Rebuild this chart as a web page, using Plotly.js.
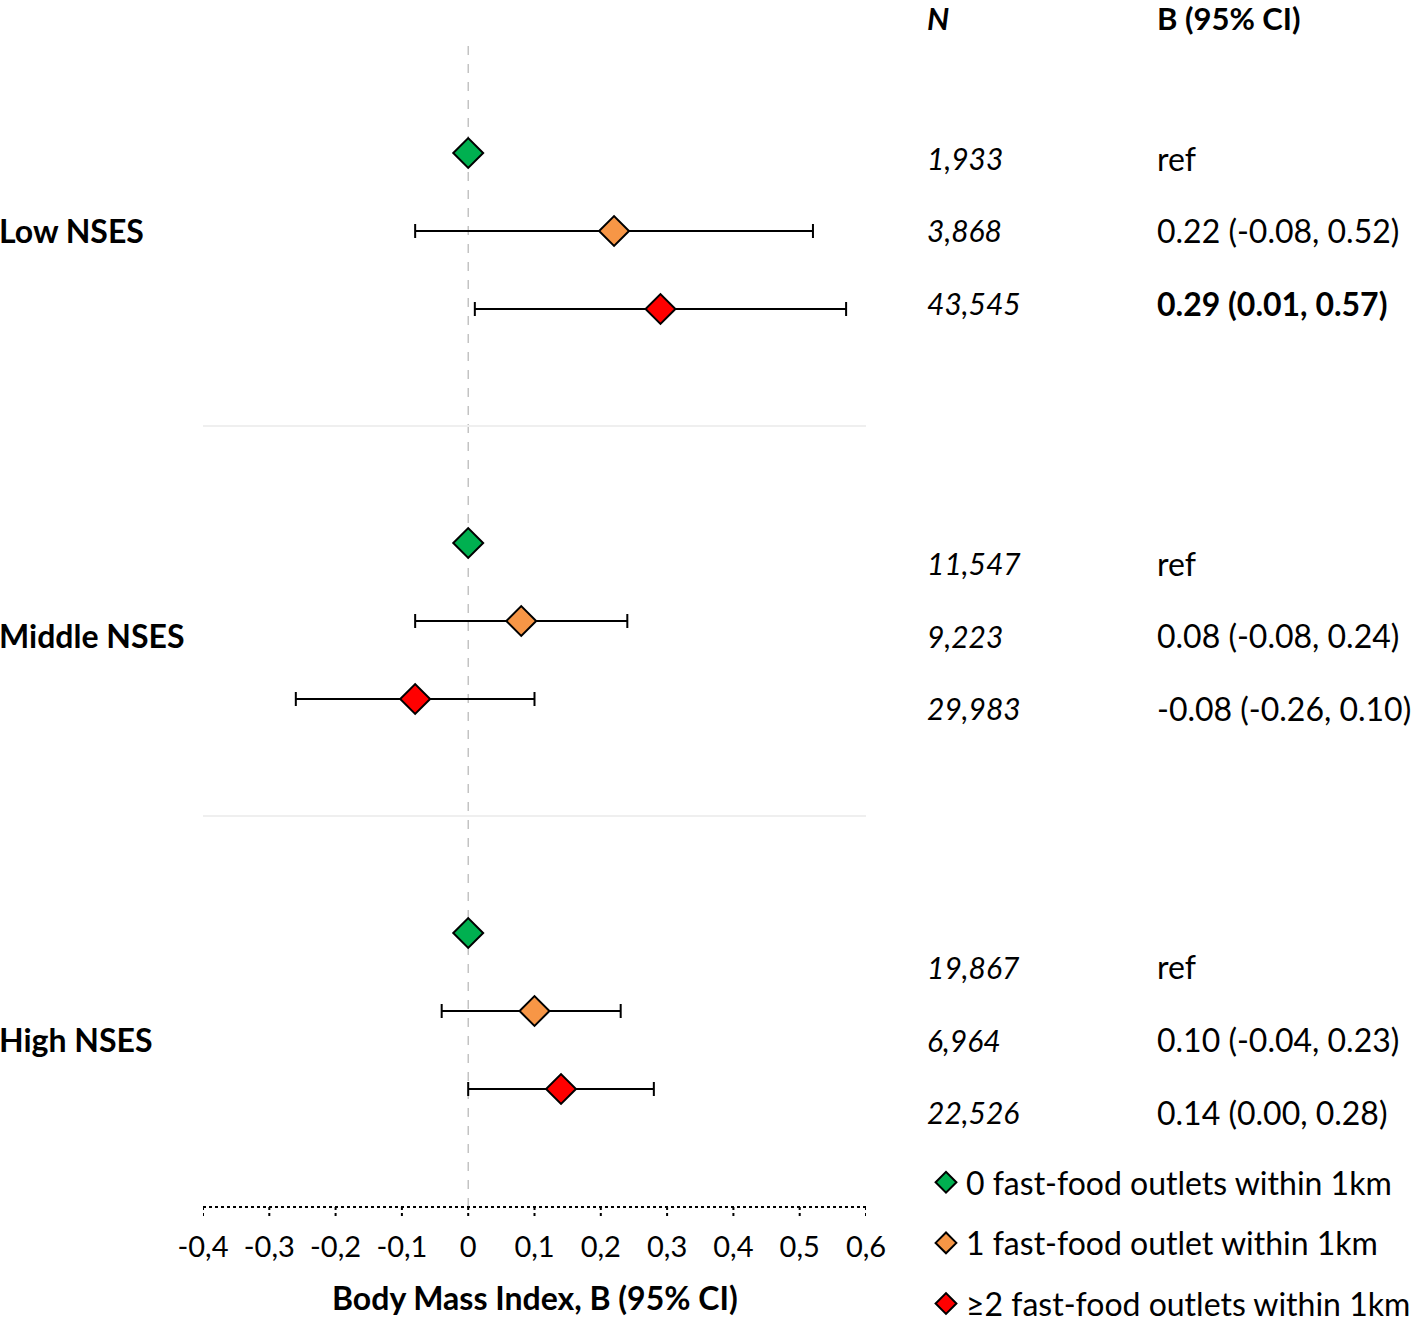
<!DOCTYPE html>
<html>
<head>
<meta charset="utf-8">
<script src="https://cdn.plot.ly/plotly-3.0.1.min.js"></script>
<style>
  body { margin: 0; background: #fff; }
  #grafico { width: 1416px; height: 1326px; }
</style>
</head>
<body>
<div id="grafico"></div>
<script>
// datos
const grupos = ["Low NSES", "Middle NSES", "High NSES"];
const exposiciones = [
    "0 fast-food outlets within 1km",
    "1 fast-food outlet within 1km",
    "≥2 fast-food outlets within 1km"
];
const colores = ["#00b050", "#f79646", "#ff0000"];

// N por grupo (fila = exposicion)
const n0 = [1933, 11547, 19867];
const n1 = [3868, 9223, 6964];
const n2 = [43545, 29983, 22526];

// B e IC 95%
const est1 = [0.22, 0.08, 0.10];
const lo1 = [-0.08, -0.08, -0.04];
const hi1 = [0.52, 0.24, 0.23];
const est2 = [0.29, -0.08, 0.14];
const lo2 = [0.01, -0.26, 0.00];
const hi2 = [0.57, 0.10, 0.28];

const tickVals = [-0.4, -0.3, -0.2, -0.1, 0, 0.1, 0.2, 0.3, 0.4, 0.5, 0.6];
const tickText = tickVals.map(v => String(v).replace(".", ","));

// layout helpers (pixel -> paper)
const W = 1416, H = 1326;
const M = { l: 203, r: 550, t: 0, b: 119, autoexpand: false };
const pw = W - M.l - M.r, ph = H - M.t - M.b;
const px = p => (p - M.l) / pw;
const py = p => 1 - (p - M.t) / ph;

const FONT = "Lato, 'Open Sans', sans-serif";

const filaY = (g, k) => g * 5 + k;

const series = [
    { n: n0, est: [0, 0, 0], lo: null, hi: null },
    { n: n1, est: est1, lo: lo1, hi: hi1 },
    { n: n2, est: est2, lo: lo2, hi: hi2 }
];

const trazas = series.map((s, k) => {
    const t = {
        x: s.est,
        y: grupos.map((g, gi) => filaY(gi, k)),
        type: "scatter",
        mode: "markers",
        name: exposiciones[k],
        legendgroup: "g" + k,
        marker: { symbol: "diamond", size: 23, color: colores[k], line: { color: "#000", width: 2 } },
        hoverinfo: "skip"
    };
    if (s.lo) {
        t.error_x = {
            type: "data",
            symmetric: false,
            array: s.hi.map((h, i) => h - s.est[i]),
            arrayminus: s.lo.map((l, i) => s.est[i] - l),
            color: "#000",
            thickness: 2,
            width: 7
        };
    }
    return t;
});

// texto de la tabla
const anot = [];
const texto = (txt, xp, yp, size, opts) => anot.push(Object.assign({
    text: txt, xref: "paper", yref: "paper", x: px(xp), y: py(yp),
    xanchor: "left", yanchor: "middle", xshift: -3, showarrow: false,
    font: { family: FONT, size: size, color: "#000" }
}, opts || {}));

texto("<b><i>N</i></b>", 928, 18, 31);
texto("<b>B (95% CI)</b>", 1158, 18, 31);

const filaTextoTop = [158, 563, 967];
const pasoTexto = 72.5;
grupos.forEach((g, gi) => {
    texto("<b>" + g + "</b>", 0, filaTextoTop[gi] + pasoTexto, 32);
    series.forEach((s, k) => {
        const yp = filaTextoTop[gi] + k * pasoTexto;
        texto("<i>" + s.n[gi].toLocaleString("en-US") + "</i>", 928, yp, 30);
        let b = "ref";
        if (s.lo) {
            b = s.est[gi].toFixed(2) + " (" + s.lo[gi].toFixed(2) + ", " + s.hi[gi].toFixed(2) + ")";
            if (s.lo[gi] * s.hi[gi] > 0) b = "<b>" + b + "</b>";
        }
        texto(b, 1158, yp, 32);
    });
});

texto("<b>Body Mass Index, B (95% CI)</b>", 0, 1297, 32, { x: 0.5, xanchor: "center", xshift: 0 });

// lineas
const formas = [
    { type: "line", xref: "x", yref: "paper", x0: 0, x1: 0, y0: 0, y1: py(40),
      line: { color: "#b5b5b5", width: 1.2, dash: "dash" }, layer: "below" },
    { type: "line", xref: "paper", yref: "y", x0: 0, x1: 1, y0: 3.5, y1: 3.5,
      line: { color: "#efefef", width: 2 }, layer: "below" },
    { type: "line", xref: "paper", yref: "y", x0: 0, x1: 1, y0: 8.5, y1: 8.5,
      line: { color: "#efefef", width: 2 }, layer: "below" },
    { type: "line", xref: "paper", yref: "paper", x0: 0, x1: 1, y0: 0, y1: 0,
      line: { color: "#000", width: 2, dash: "dot" } }
];
tickVals.forEach(v => formas.push({
    type: "line", xref: "x", yref: "paper", x0: v, x1: v, y0: 0, y1: -9 / ph,
    line: { color: "#000", width: 2, dash: "dot" }
}));

Plotly.newPlot("grafico", trazas, {
    width: W,
    height: H,
    margin: M,
    paper_bgcolor: "#fff",
    plot_bgcolor: "#fff",
    font: { family: FONT, size: 29, color: "#000" },
    showlegend: true,
    legend: {
        x: px(926), y: py(1155), xanchor: "left", yanchor: "top",
        font: { family: FONT, size: 32, color: "#000" },
        tracegroupgap: 16, bgcolor: "rgba(0,0,0,0)"
    },
    xaxis: {
        range: [-0.4, 0.6],
        tickmode: "array",
        tickvals: tickVals,
        ticktext: tickText,
        ticks: "outside",
        ticklen: 10,
        tickcolor: "rgba(0,0,0,0)",
        ticklabelstandoff: 4,
        tickfont: { family: FONT, size: 29 },
        showgrid: false,
        zeroline: false,
        showline: false,
        fixedrange: true
    },
    yaxis: {
        range: [(ph - 153) / 78, -153 / 78],
        visible: false,
        showgrid: false,
        zeroline: false,
        fixedrange: true
    },
    shapes: formas,
    annotations: anot
}, { staticPlot: true });
</script>
</body>
</html>
